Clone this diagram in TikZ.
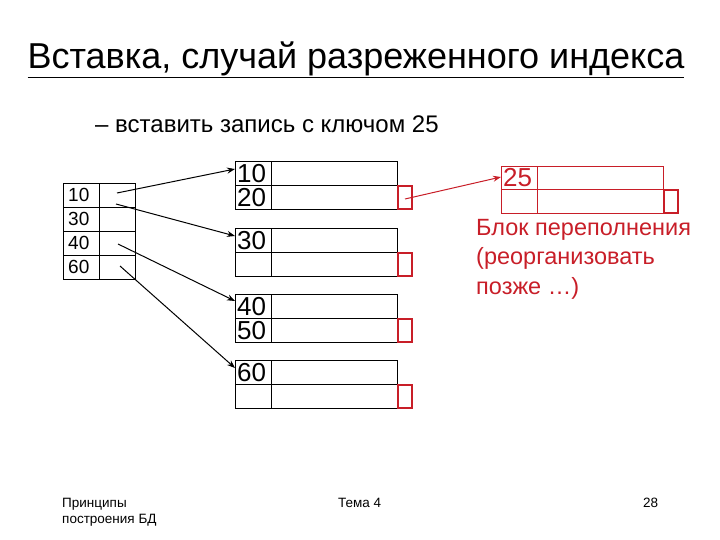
\documentclass[tikz,border=0pt]{standalone}
\usepackage{fontspec}
\setmainfont{Liberation Sans}
\usetikzlibrary{arrows.meta}
\definecolor{dred}{RGB}{200,30,40}
\tikzset{cell/.style={draw,line width=0.8pt},
 rbox/.style={draw=dred,line width=1.3pt},
 arr/.style={-{Stealth[length=8pt,width=6pt]},line width=1pt},
 num/.style={anchor=west,inner sep=0pt,font=\fontsize{26}{26}\selectfont},
 inum/.style={anchor=west,inner sep=0pt,font=\fontsize{19}{19}\selectfont}}
\begin{document}
\begin{tikzpicture}[x=1pt,y=-1pt]
\useasboundingbox (0,0) rectangle (720,540);
\node[inner sep=0pt,font=\fontsize{36}{36}\selectfont] (title) at (356,60) {\underline{Вставка, случай разреженного индекса}};
\node[anchor=west,inner sep=0pt,font=\fontsize{24}{24}\selectfont] (sub) at (95,124) {– вставить запись с ключом 25};
% index
\foreach \i/\v in {0/10,1/30,2/40,3/60}{
 \draw[cell] (63,{183+24*\i}) rectangle (99,{207+24*\i});
 \draw[cell] (99,{183+24*\i}) rectangle (135,{207+24*\i});
 \node[inum] (ix\v) at (68,{195+24*\i}) {\v};
}
\coordinate (p1) at (117,193); \coordinate (p2) at (116,204);
\coordinate (p3) at (118,244); \coordinate (p4) at (120,266);
% data blocks
\foreach \k/\y in {1/161,2/228,3/294,4/360}{
 \draw[cell] (235,\y) rectangle (271,\y+24) (271,\y) rectangle (397,\y+24)
   (235,\y+24) rectangle (271,\y+48) (271,\y+24) rectangle (397,\y+48);
 \draw[rbox] (398,\y+25) rectangle (412,\y+48);
 \coordinate (b\k) at (235,\y+8);
}
\node[num] (d10) at (237,174) {10};
\node[num] (d20) at (237,198) {20};
\node[num] (d30) at (237,241) {30};
\node[num] (d40) at (237,307) {40};
\node[num] (d50) at (237,331) {50};
\node[num] (d60) at (237,373) {60};
\draw[arr] (p1) -- (b1);
\draw[arr] (p2) -- (235,236);
\draw[arr] (p3) -- (235,301);
\draw[arr] (p4) -- (235,368);
% overflow
\draw[draw=dred,line width=0.8pt] (501,166) rectangle (537,189) (537,166) rectangle (663,189)
 (501,189) rectangle (537,213) (537,189) rectangle (663,213);
\draw[rbox] (664,190) rectangle (678,213);
\node[num,text=dred] (o25) at (503,178) {25};
\coordinate (rs) at (405,199); \coordinate (rt) at (501,177);
\draw[arr,dred] (rs) -- (rt);
\node[anchor=west,inner sep=0pt,text=dred,align=left,font=\fontsize{23.5}{29.5}\selectfont] (note) at (476,259) {Блок переполнения\\(реорганизовать\\позже …)};
% footer
\node[anchor=north west,inner sep=0pt,align=left,font=\fontsize{13.5}{16}\selectfont] (f1) at (62,498) {Принципы\\построения БД};
\node[anchor=north west,inner sep=0pt,font=\fontsize{13.5}{16}\selectfont] (f2) at (338,498) {Тема 4};
\node[anchor=north west,inner sep=0pt,font=\fontsize{13.5}{16}\selectfont] (f3) at (643,498) {28};
\end{tikzpicture}
\end{document}
